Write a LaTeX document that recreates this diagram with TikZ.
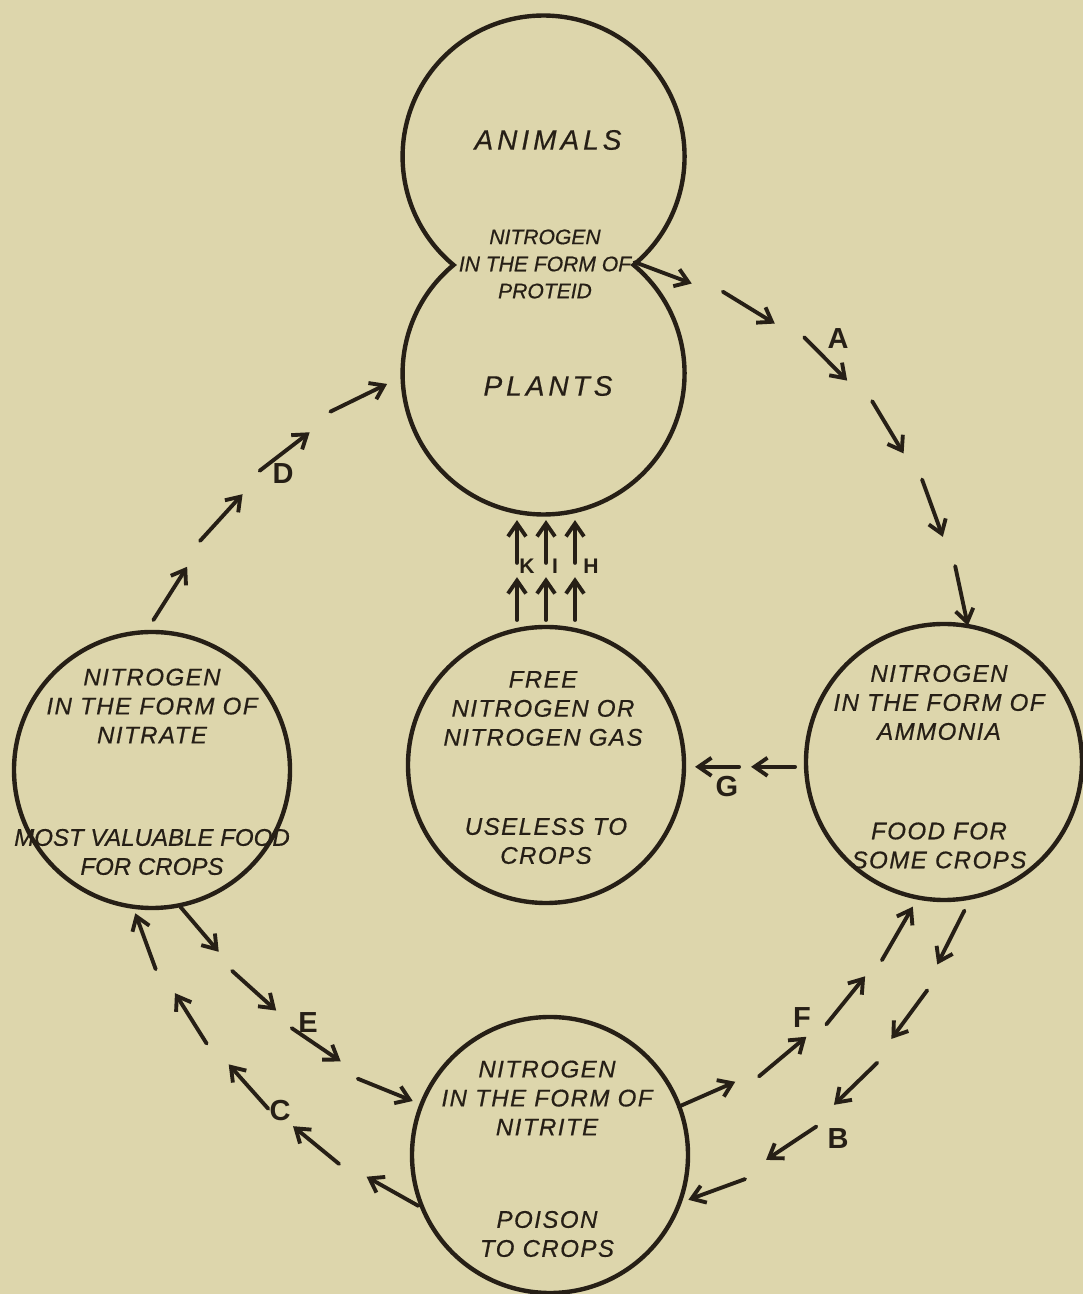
\documentclass[tikz,border=0pt]{standalone}
\usepackage{fontspec}
\setmainfont{Liberation Sans}
\newfontfamily\spacedfont{Liberation Sans}[LetterSpace=6, FakeBold=0.5]
\newfontfamily\plainfont{Liberation Sans}[FakeBold=0.5]
\newfontfamily\widefont{Liberation Sans}[LetterSpace=14, FakeBold=0.5]
\usepackage{tikz}
\usetikzlibrary{arrows.meta}
\usetikzlibrary{decorations.markings}
\usetikzlibrary{calc}
\definecolor{paper}{RGB}{221,214,172}
\definecolor{ink}{RGB}{38,31,22}

\begin{document}
\begin{tikzpicture}[
  pool/.style={circle, draw=ink, line width=2.5pt, inner sep=0pt, outer sep=0pt, minimum size=5.52cm},
  lump/.style={circle, inner sep=0pt, outer sep=0pt, minimum size=5.64cm},
  words/.style={text=ink, align=center, font=\spacedfont\itshape\fontsize{13.7}{16.5}\selectfont},
  small words/.style={text=ink, align=center, font=\plainfont\itshape\fontsize{12}{15.4}\selectfont},
  big words/.style={text=ink, font=\widefont\itshape\fontsize{16}{19}\selectfont},
  letter/.style={text=ink, font=\bfseries\fontsize{16.5}{18}\selectfont},
  small letter/.style={text=ink, font=\bfseries\fontsize{12}{14}\selectfont},
  dart/.style={draw=ink, line width=2.2pt, line cap=round, ->, >={Straight Barb[length=2.6mm,width=3.6mm]}},
  flow/.style 2 args={postaction={decorate}, decoration={markings,
    mark=between positions #1 and 1 step #2 with {\draw[dart] (-#1*\pgfdecoratedpathlength,0) -- (0,0);}}}
]
\fill[paper] (0,0) rectangle (21.66,25.88);
\useasboundingbox (0,0) rectangle (21.66,25.88);

\node[lump] (animals) at (10.86,22.74) {};
\node[lump] (plants) at (10.86,18.40) {};
\coordinate (notchR) at (animals.-50.3);
\draw[draw=ink, line width=2.5pt] (notchR) arc[start angle=-50.3, end angle=230.3, radius=2.82] arc[start angle=129.7, end angle=410.3, radius=2.82] -- cycle;
\node[big words] (animals-name) at (10.96,23.08) {ANIMALS};
\node[small words] (proteid) at (10.90,20.60) {NITROGEN\\IN THE FORM OF\\PROTEID};
\node[big words] (plants-name) at (10.96,18.16) {PLANTS};

\node[pool] (nitrate) at (3.04,10.48) {};
\node[pool] (free) at (10.92,10.58) {};
\node[pool] (ammonia) at (18.88,10.64) {};
\node[pool] (nitrite) at (11.00,2.78) {};

\node[words] (nitrate-form) at ([yshift=1.28cm]nitrate) {NITROGEN\\IN THE FORM OF\\NITRATE};
\node[words] (nitrate-use) at ([yshift=-1.64cm]nitrate) {\plainfont MOST VALUABLE FOOD\\\plainfont FOR CROPS};
\node[words] (free-form) at ([xshift=-0.06cm,yshift=1.13cm]free) {FREE\\NITROGEN OR\\NITROGEN GAS};
\node[words] (free-use) at ([yshift=-1.52cm]free) {USELESS TO\\CROPS};
\node[words] (ammonia-form) at ([xshift=-0.1cm,yshift=1.19cm]ammonia) {NITROGEN\\IN THE FORM OF\\AMMONIA};
\node[words] (ammonia-use) at ([xshift=-0.1cm,yshift=-1.67cm]ammonia) {FOOD FOR\\SOME CROPS};
\node[words] (nitrite-form) at ([xshift=-0.06cm,yshift=1.14cm]nitrite) {NITROGEN\\IN THE FORM OF\\NITRITE};
\node[words] (nitrite-use) at ([xshift=-0.06cm,yshift=-1.58cm]nitrite) {POISON\\TO CROPS};

\coordinate (d0) at ([yshift=2mm]nitrate.88);
\coordinate (d1) at ([xshift=-3mm]plants.184);
\coordinate (e1) at ([xshift=-2mm]nitrite.157);
\coordinate (c1) at ([yshift=-1.2mm]nitrate.263);
\coordinate (f1) at ([yshift=-2mm]ammonia.257);
\coordinate (b0) at ([yshift=-2mm]ammonia.-83);
\coordinate (b1) at ([xshift=1.5mm]nitrite.-19);
\coordinate (g0) at ([xshift=-2.2mm]ammonia.182);
\coordinate (g1) at ($(free.east |- g0)+(2.2mm,0)$);

\path[flow={0.1166}{0.1765}] (notchR) .. controls +(-15:4) and +(102:4) .. (ammonia.80);
\path[flow={0.1469}{0.213}] (b0) .. controls +(251:2.6) and +(20:2.6) .. (b1);
\path[flow={0.1427}{0.2141}] (nitrite.200) .. controls +(159:2.6) and +(-70:2.6) .. (c1);
\path[flow={0.187}{0.2707}] (d0) .. controls +(65:2.2) and +(206:2.2) .. (d1);
\path[flow={0.1936}{0.2685}] (nitrate.-77) .. controls +(-57:1.8) and +(158:1.8) .. (e1);
\path[flow={0.1959}{0.2677}] (nitrite.24) .. controls +(8:2.2) and +(240:1.8) .. (f1);
\path[flow={0.4395}{0.5595}] (g0) -- (g1);
\foreach \dx/\nm in {-0.58/k,0/i,0.58/h} {
  \coordinate (\nm0) at ($(free.north)+(\dx,0.14)$);
  \coordinate (\nm1) at ($(plants.south -| free.north)+(\dx,-0.1)$);
  \path[flow={0.4282}{0.5708}] (\nm0) -- (\nm1);
}

\node[letter] (lab-a) at (16.76,19.10) {A};
\node[letter] (lab-b) at (16.76,3.10) {B};
\node[letter] (lab-c) at (5.60,3.66) {C};
\node[letter] (lab-d) at (5.66,16.40) {D};
\node[letter] (lab-e) at (6.16,5.42) {E};
\node[letter] (lab-f) at (16.04,5.52) {F};
\node[letter] (lab-g) at (14.54,10.14) {G};
\node[small letter] (lab-k) at (10.54,14.56) {K};
\node[small letter] (lab-i) at (11.10,14.56) {I};
\node[small letter] (lab-h) at (11.82,14.56) {H};
\end{tikzpicture}
\end{document}
